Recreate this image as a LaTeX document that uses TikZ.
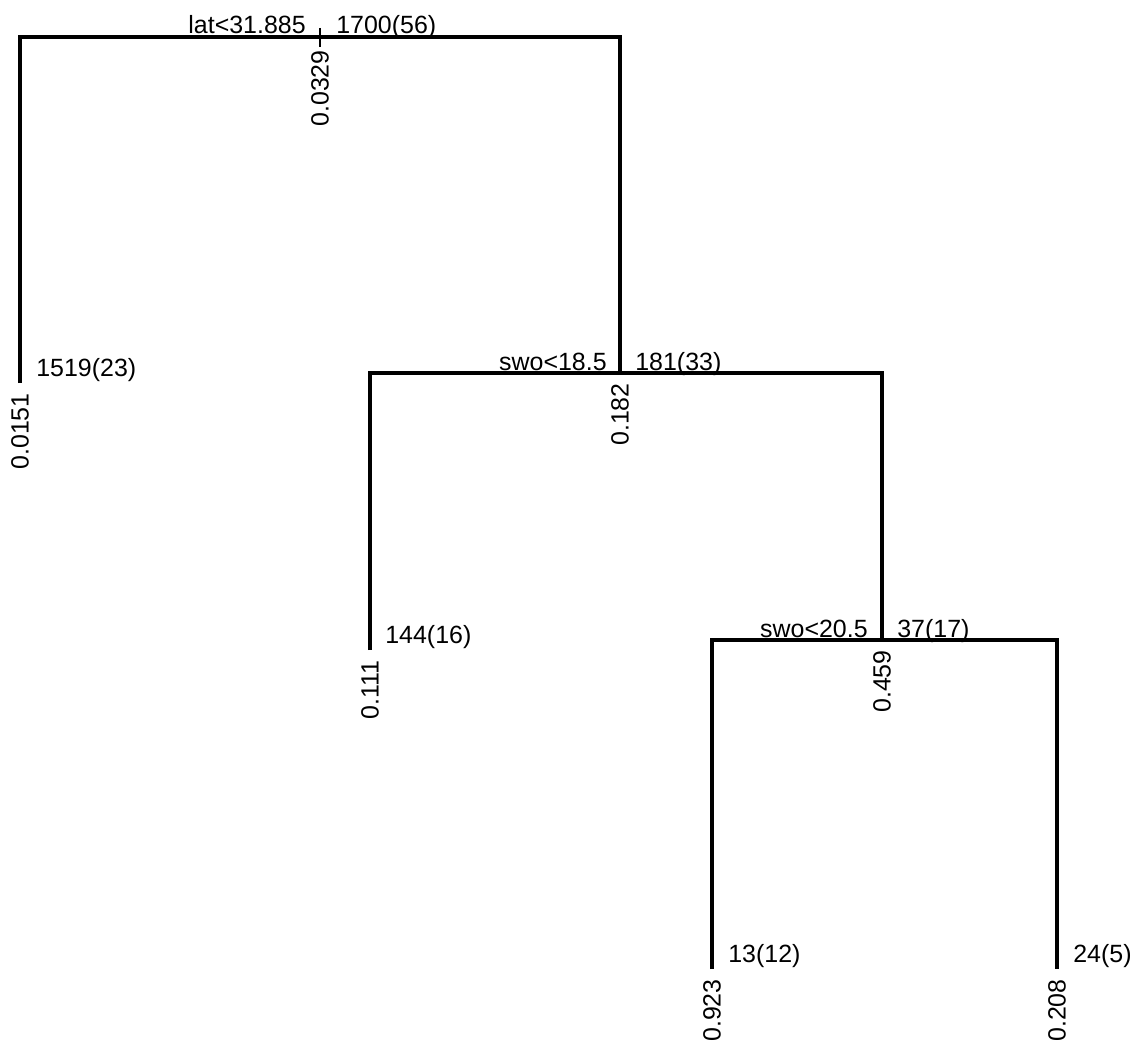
\documentclass[tikz,border=0pt]{standalone}
\usepackage{fontspec}
\setmainfont{Liberation Sans}
\usepackage{tikz}
\tikzstyle{branch} = [line width=2pt]
\tikzstyle{stem} = [line width=1.2pt]
\tikzstyle{split} = [inner sep=0pt,anchor=base east]
\tikzstyle{count} = [inner sep=0pt,anchor=base west]
\tikzstyle{yval} = [inner sep=0pt,rotate=90,anchor=east]

\begin{document}
\begin{tikzpicture}[x=0.02cm,y=-0.02cm,font=\fontsize{14.2}{17}\selectfont]
            \useasboundingbox (0,0) rectangle (1138,1044);
            % basics
            \coordinate (r) at (320,37);
            \coordinate (rs) at (320,28);
            \coordinate (rt) at (320,47);
            \coordinate (l1) at (20,383);
            \coordinate (n1) at (620,373);
            \coordinate (l2) at (370,650);
            \coordinate (n2) at (882,640);
            \coordinate (l3) at (712,969);
            \coordinate (l4) at (1057,969);
            % labels
            \node[split] (sr) at (306,34) {lat<31.885};
            \node[count] (cr) at (336,34) {1700(56)};
            \node[yval] (yr) at (320,50) {0.0329};
            \node[count] (c1) at (36,376) {1519(23)};
            \node[yval] (y1) at (20,393) {0.0151};
            \node[split] (s2) at (607,370) {swo<18.5};
            \node[count] (c2) at (635,370) {181(33)};
            \node[yval] (y2) at (620,383) {0.182};
            \node[count] (c3) at (385,643) {144(16)};
            \node[yval] (y3) at (370,660) {0.111};
            \node[split] (s4) at (868,637) {swo<20.5};
            \node[count] (c4) at (897,637) {37(17)};
            \node[yval] (y4) at (882,650) {0.459};
            \node[count] (c5) at (728,962) {13(12)};
            \node[yval] (y5) at (712,979) {0.923};
            \node[count] (c6) at (1073,962) {24(5)};
            \node[yval] (y6) at (1057,979) {0.208};
            % branches
            \draw[stem] (rs) -- (rt);
            \draw[branch] (l1) |- (r) -| (n1);
            \draw[branch] (l2) |- (n1) -| (n2);
            \draw[branch] (l3) |- (n2) -| (l4);
        \end{tikzpicture}
\end{document}
